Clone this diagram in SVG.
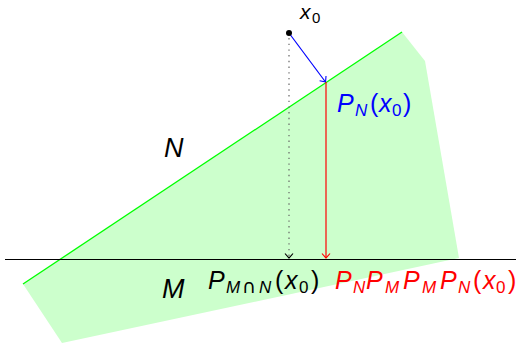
<svg xmlns="http://www.w3.org/2000/svg" width="521" height="344" viewBox="0 0 521 344">
<style>
  text { font-family: "Liberation Sans", Arial, sans-serif; }
  .it { font-style: italic; }
  .up { font-style: normal; }
  .main { font-size: 25px; }
  .sub { font-size: 17px; }
  .big { font-size: 27px; }
  .sym { font-family: "DejaVu Sans", sans-serif; font-size: 19px; }
  .conn { fill: none; stroke-width: 1.2; }
</style>
<defs>
  <marker id="arrBlue" markerUnits="userSpaceOnUse" viewBox="-6 -6 8 12" markerWidth="8" markerHeight="12" refX="0" refY="0" orient="auto" overflow="visible">
    <path d="M-4.5,-4 Q-1,-1 0,0 Q-1,1 -4.5,4" fill="none" stroke="#0000ff" stroke-width="1.1"/>
  </marker>
  <marker id="arrRed" markerUnits="userSpaceOnUse" viewBox="-6 -6 8 12" markerWidth="8" markerHeight="12" refX="0" refY="0" orient="auto" overflow="visible">
    <path d="M-4.5,-4 Q-1,-1 0,0 Q-1,1 -4.5,4" fill="none" stroke="#ff0000" stroke-width="1.1"/>
  </marker>
  <marker id="arrBlack" markerUnits="userSpaceOnUse" viewBox="-6 -6 8 12" markerWidth="8" markerHeight="12" refX="0" refY="0" orient="auto" overflow="visible">
    <path d="M-4.5,-4 Q-1,-1 0,0 Q-1,1 -4.5,4" fill="none" stroke="#000000" stroke-width="1.1"/>
  </marker>
</defs>

<g id="region-N">
  <polygon points="23,284 402,32 425,61 459,258 62,343" fill="#ccffcc" stroke="none"/>
  <line x1="23" y1="284" x2="402" y2="32" stroke="#00ff00" stroke-width="1.3"/>
</g>

<g id="line-M">
  <line x1="5" y1="259.5" x2="516" y2="259.5" stroke="#000000" stroke-width="1.2"/>
</g>

<g id="connectors">
  <line class="conn" x1="289" y1="33" x2="325.5" y2="82" stroke="#0000ff" marker-end="url(#arrBlue)"/>
  <line class="conn" x1="326" y1="82" x2="326" y2="258" stroke="#ff0000" marker-end="url(#arrRed)"/>
  <line class="conn" x1="289" y1="38" x2="289" y2="258" stroke="#666666" stroke-dasharray="1.4,4.3" marker-end="url(#arrBlack)"/>
</g>

<g id="point-x0">
  <circle cx="289" cy="33" r="3" fill="#000000"/>
  <text y="19"><tspan class="it" x="300" font-size="21">x</tspan><tspan class="up" x="312" y="23" font-size="15">0</tspan></text>
</g>

<g id="label-N">
  <text class="it big" x="164" y="157">N</text>
</g>

<g id="label-M">
  <text class="it big" x="162" y="298">M</text>
</g>

<g id="label-PN">
  <text fill="#0000ff" y="112"><tspan class="it main" x="337">P</tspan><tspan class="it sub" x="355" y="116">N</tspan><tspan class="up main" x="370" y="112">(</tspan><tspan class="it main" x="379">x</tspan><tspan class="up sub" x="392" y="116">0</tspan><tspan class="up main" x="403" y="112">)</tspan></text>
</g>

<g id="label-PMN">
  <text fill="#000000" y="289"><tspan class="it main" x="208">P</tspan><tspan class="it sub" x="226" y="293">M</tspan><tspan class="sym" x="242" y="293">∩</tspan><tspan class="it sub" x="259" y="293">N</tspan><tspan class="up main" x="275" y="289">(</tspan><tspan class="it main" x="285">x</tspan><tspan class="up sub" x="299" y="293">0</tspan><tspan class="up main" x="311" y="289">)</tspan></text>
</g>

<g id="label-PNPMPMPN">
  <text fill="#ff0000" y="289"><tspan class="it main" x="335">P</tspan><tspan class="it sub" x="353" y="293">N</tspan><tspan class="it main" x="366" y="289">P</tspan><tspan class="it sub" x="385" y="293">M</tspan><tspan class="it main" x="403" y="289">P</tspan><tspan class="it sub" x="422" y="293">M</tspan><tspan class="it main" x="440" y="289">P</tspan><tspan class="it sub" x="458" y="293">N</tspan><tspan class="up main" x="473" y="289">(</tspan><tspan class="it main" x="483">x</tspan><tspan class="up sub" x="496" y="293">0</tspan><tspan class="up main" x="508" y="289">)</tspan></text>
</g>
</svg>
